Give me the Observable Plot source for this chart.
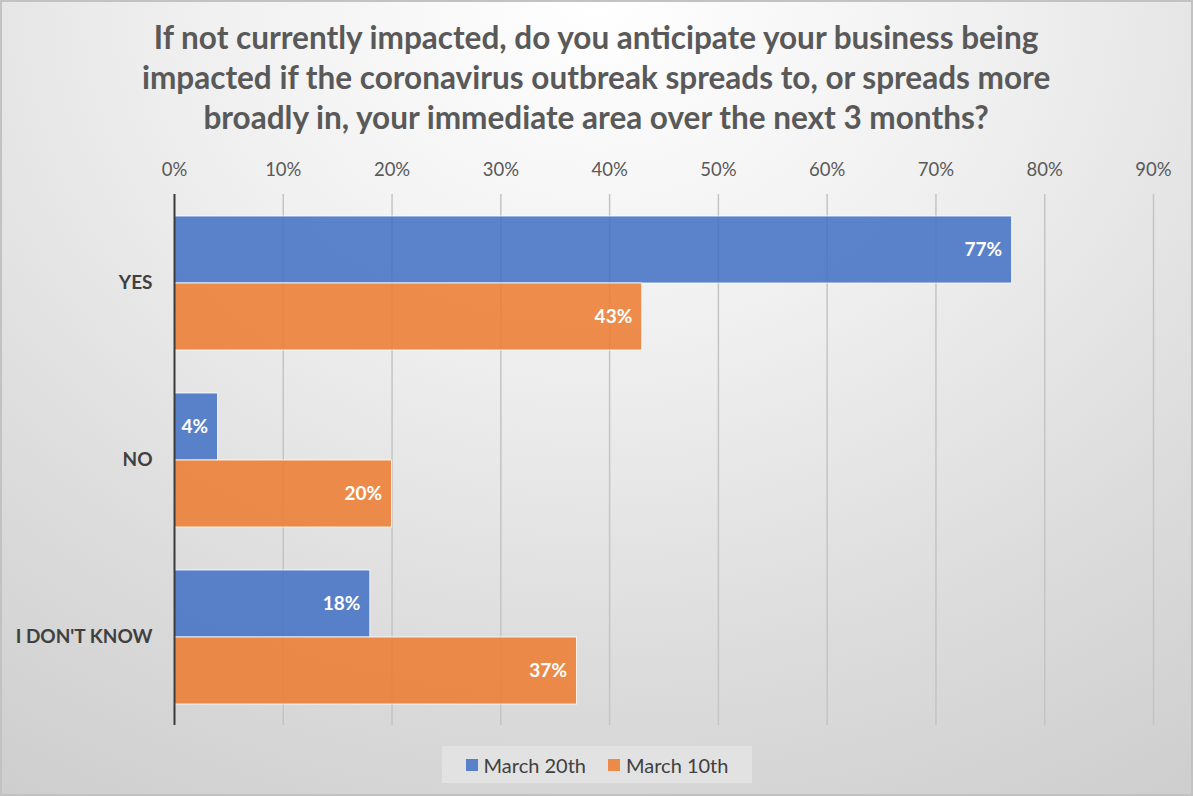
<!DOCTYPE html>
<html><head><meta charset="utf-8">
<script src="https://cdn.jsdelivr.net/npm/d3@7"></script>
<script src="https://cdn.jsdelivr.net/npm/@observablehq/plot@0.6"></script>
<style>
html,body{margin:0;padding:0;}
#chart{position:relative;width:1193px;height:796px;overflow:hidden;font-family:Lato,"Open Sans",sans-serif;
 background:radial-gradient(ellipse 95% 120% at 50% 0%, #ffffff 0%, #f0f0f0 35%, #dcdcdc 70%, #cdcdcd 100%);
 box-shadow:inset 0 0 0 2px #c2c2c2;}
#title{position:absolute;left:0;top:17px;width:1193px;text-align:center;font-weight:bold;font-size:32px;line-height:40px;color:#595959;}
#title span{display:inline-block;transform:scaleX(0.985);transform-origin:center;}
#plot{position:absolute;left:0;top:140px;}
#legend{position:absolute;left:442px;top:746px;width:310px;height:37px;background:#e2e2e2;display:flex;align-items:center;justify-content:center;gap:22px;font-size:20px;color:#404040;}
#legend .item{display:flex;align-items:center;gap:6px;}
#legend .sw{width:12px;height:12px;display:inline-block;}
</style></head>
<body>
<div id="chart">
 <div id="title"><span>If not currently impacted, do you anticipate your business being<br>impacted if the coronavirus outbreak spreads to, or spreads more<br>broadly in, your immediate area over the next 3 months?</span></div>
 <div id="plot"></div>
 <div id="legend"></div>
</div>
<script>
const categories = ["YES", "NO", "I DON'T KNOW"];
const seriesNames = ["March 20th", "March 10th"];
const march20 = [77, 4, 18];
const march10 = [43, 20, 37];
const xTicks = [0, 10, 20, 30, 40, 50, 60, 70, 80, 90];
const colors = ["#4472C4", "#ED7D31"];

const rows = [];
categories.forEach((c, i) => {
  rows.push({category: c, series: seriesNames[0], value: march20[i]});
  rows.push({category: c, series: seriesNames[1], value: march10[i]});
});

const chart = Plot.plot({
  width: 1193, height: 600,
  marginLeft: 174, marginRight: 40, marginTop: 53, marginBottom: 15,
  style: {background: "transparent", fontFamily: "Lato, 'Open Sans', sans-serif", overflow: "visible"},
  x: {domain: [0, 90]},
  y: {domain: seriesNames, axis: null, paddingInner: 0, paddingOuter: 0.32},
  fy: {domain: categories, padding: 0, label: null},
  color: {domain: seriesNames, range: colors},
  marks: [
    Plot.ruleX(xTicks.filter(d => d > 0), {stroke: "#c4c4c4", strokeWidth: 1.5}),
    Plot.axisX({anchor: "top", ticks: xTicks, tickFormat: d => d + "%", tickSize: 0, tickPadding: 19, fontSize: 18.5, fill: "#595959", label: null}),
    Plot.axisFy({anchor: "left", tickSize: 0, tickPadding: 22, fontSize: 19, fontWeight: "bold", fill: "#404040", label: null}),
    Plot.barX(rows, {x: "value", y: "series", fy: "category", fill: "series", fillOpacity: 0.87, stroke: "white", strokeWidth: 1, strokeOpacity: 0.8}),
    Plot.ruleX([0], {stroke: "#3a3a3a", strokeWidth: 2}),
    Plot.text(rows, {x: "value", y: "series", fy: "category", text: d => d.value + "%", dx: -10, textAnchor: "end", fill: "white", fontWeight: "bold", fontSize: 19})
  ]
});
document.getElementById("plot").appendChild(chart);

const legend = document.getElementById("legend");
seriesNames.forEach((s, i) => {
  const item = document.createElement("div");
  item.className = "item";
  const sw = document.createElement("span");
  sw.className = "sw";
  sw.style.background = colors[i];
  sw.style.opacity = 0.87;
  const t = document.createElement("span");
  t.textContent = s;
  item.appendChild(sw); item.appendChild(t);
  legend.appendChild(item);
});
</script>
</body></html>
